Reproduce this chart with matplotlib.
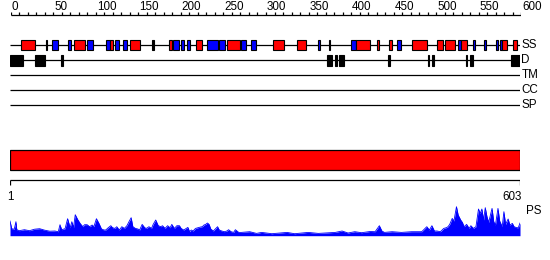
import matplotlib
matplotlib.use("Agg")
import matplotlib.pyplot as plt
from matplotlib.patches import Rectangle

# Sequence and ruler
seq_len = 603
ruler_ticks = list(range(0, 601, 10))
ruler_labels = list(range(0, 601, 50))

# Secondary structure (residue ranges)
helix = [(14, 30), (77, 90), (119, 123), (143, 154), (189, 192), (220, 228),
         (257, 272), (312, 324), (340, 350), (409, 426), (434, 437), (448, 452),
         (475, 493), (505, 512), (514, 526), (533, 540), (582, 588), (595, 599)]
strand = [(43, 45), (51, 58), (70, 73), (92, 99), (114, 119), (125, 130),
          (134, 139), (193, 200), (203, 206), (210, 214), (233, 246), (248, 255),
          (274, 280), (286, 291), (365, 367), (377, 379), (403, 409), (458, 463),
          (530, 533), (548, 550), (560, 563), (575, 577), (579, 582)]
other_ss = [(169, 171)]

# Disorder
disorder = [(1, 16), (30, 42), (61, 63), (375, 381), (385, 387), (389, 395),
            (447, 450), (494, 496), (499, 502), (539, 541), (544, 547), (592, 603)]

tracks = ["SS", "D", "TM", "CC", "SP"]

# Domain bar
domains = [(1, 603)]

# Profile score (PS)
prof_res = [1, 3, 6, 8, 9, 12, 18, 24, 30, 36, 42, 48, 54, 58, 60, 62, 66, 69, 72,
            74, 76, 78, 81, 84, 87, 89, 92, 95, 98, 100, 103, 106, 109, 112, 114,
            117, 120, 122, 125, 127, 130, 133, 136, 139, 141, 144, 146, 149, 152,
            154, 157, 160, 162, 165, 168, 170, 173, 176, 179, 181, 184, 187, 190,
            192, 195, 198, 201, 203, 206, 209, 211, 213, 215, 217, 220, 223, 226,
            228, 230, 232, 234, 236, 238, 241, 244, 246, 248, 251, 254, 257, 259,
            262, 265, 267, 271, 274, 284, 292, 298, 310, 328, 337, 353, 365, 385,
            393, 400, 408, 416, 426, 432, 437, 440, 443, 452, 463, 475, 487, 493,
            496, 499, 502, 505, 509, 513, 516, 518, 520, 523, 525, 528, 530, 533,
            535, 537, 540, 543, 545, 548, 551, 554, 556, 558, 560, 562, 564, 566,
            570, 572, 574, 577, 579, 582, 584, 586, 589, 591, 594, 596, 599, 601, 603]
prof_score = [14.7, 7, 6.5, 14, 6, 5, 6, 5, 6.5, 7, 5.5, 4.5, 4.7, 4, 11, 6, 7, 17, 8,
              14, 8, 21, 16, 12, 9, 11, 11, 9, 10.7, 9, 17, 12.3, 6.7, 5.7, 5.7,
              8, 10, 8, 7.3, 9, 5.7, 9, 7.3, 10, 13.3, 18, 9, 7.3, 6.7,
              5.7, 11.3, 8, 7.3, 9, 7.3, 11.3, 15.7, 10, 9, 10, 7.3, 10, 8,
              11.3, 7.3, 10, 10, 7.3, 5.7, 7.3, 8.3, 4, 5.7, 4.7, 7.3, 8, 8.7,
              9, 10.7, 11.3, 12.7, 11.3, 6.7, 4.7, 7.3, 9, 5.7, 4.7, 4, 4.7, 6,
              4, 3.3, 6, 3.3, 3.3, 4, 2.3, 3.3, 2, 3.3, 2, 3.3, 2.3, 3.3,
              4.7, 2.7, 4, 3, 4.2, 4, 10, 4.7, 3.3, 4, 3.3, 4, 4, 9,
              5.7, 10, 4.7, 4.7, 4, 7.3, 8, 9, 11.3, 17.3, 14.7, 29, 20.7, 15.7,
              13.3, 9, 11.3, 7.3, 10, 7.3, 9, 26.7, 22.3, 26.7, 15.7, 28, 19, 13.3,
              27.3, 14, 10.7, 27.3, 14.7, 9, 24, 11.3, 16.7, 10.7, 12.3, 9, 8, 8, 12.7]

RED = "#ff0000"
BLUE = "#0000ff"
FONT = "Liberation Sans"

fig = plt.figure(figsize=(5.5, 2.6), dpi=100)

# ruler axes: 0..600
ax_r = fig.add_axes([10.7 / 550, 0, 510.6 / 550, 1])
ax_r.set_xlim(0, 600)
ax_r.set_ylim(260, 0)
ax_r.axis("off")
ax_r.hlines(15, 0, 600, color="black", lw=0.9)
ax_r.vlines(ruler_ticks, 12, 15, color="black", lw=0.9)
for t in ruler_labels:
    ax_r.annotate(str(t), (t, 12.5), xytext=(0.7, 0), textcoords="offset points",
                  ha="left", va="bottom", fontsize=8.4, family=FONT)

# main axes: residues 1..603
ax = fig.add_axes([10 / 550, 0, 510 / 550, 1])
ax.set_xlim(1, seq_len)
ax.set_ylim(260, 0)
ax.axis("off")

track_y = [45, 60, 75, 90, 105]
for name, y in zip(tracks, track_y):
    ax.hlines(y, 1, seq_len, color="black", lw=0.9)
    ax.annotate(name, (seq_len, y), xytext=(1.0, 0), textcoords="offset points",
                ha="left", va="center", fontsize=8.4, family=FONT)

def boxes(ranges, y, h, color):
    for s, e in ranges:
        ax.add_patch(Rectangle((s, y - h / 2), e - s, h, facecolor=color,
                               edgecolor="black", lw=0.8, zorder=3))

boxes(strand, 45, 10, BLUE)
boxes(helix, 45, 10, RED)
boxes(other_ss, 45, 10, "black")
boxes(disorder, 60.3, 10.5, "black")

# domain bar
for s, e in domains:
    ax.add_patch(Rectangle((s, 150), e - s, 20, facecolor=RED,
                           edgecolor="black", lw=0.9, zorder=3))

# bottom ruler
ax.hlines(180, 1, seq_len, color="black", lw=0.9)
ax.vlines([1, seq_len], 180, 185, color="black", lw=0.9)
ax.annotate("1", (1, 190.5), xytext=(0, 0), textcoords="offset points",
            ha="center", va="top", fontsize=8.4, family=FONT)
ax.annotate(str(seq_len), (seq_len, 190.5), xytext=(1.5, 0), textcoords="offset points",
            ha="right", va="top", fontsize=8.4, family=FONT)
ax.annotate("PS", (seq_len, 211), xytext=(4.5, 0), textcoords="offset points",
            ha="left", va="center", fontsize=8.4, family=FONT)

# profile
ax_p = fig.add_axes([10 / 550, (260 - 235.7) / 260, 510 / 550, 30 / 260])
ax_p.set_xlim(1, seq_len)
ax_p.set_ylim(0, 30)
ax_p.axis("off")
ax_p.fill_between(prof_res, 0, prof_score, color=BLUE, lw=0)
ax_p.plot(prof_res, prof_score, color=BLUE, lw=0.6)

fig.savefig("out.png", dpi=100)
